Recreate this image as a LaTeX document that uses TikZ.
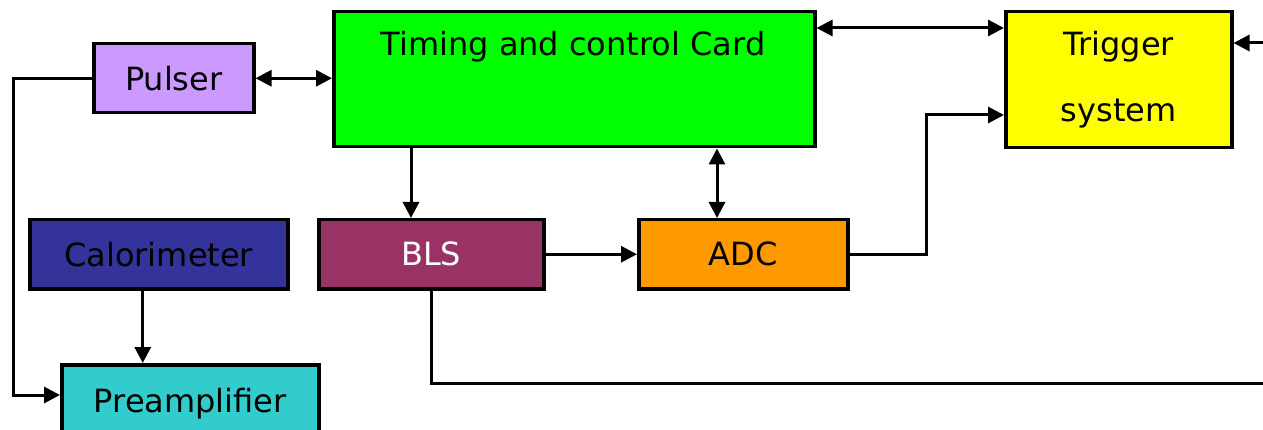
\documentclass[tikz,border=0pt]{standalone}
\usepackage{fontspec}
\setmainfont{DejaVu Sans}
\usetikzlibrary{arrows.meta}
\definecolor{cPulser}{HTML}{CC99FF}
\definecolor{cTiming}{HTML}{00FF00}
\definecolor{cTrigger}{HTML}{FFFF00}
\definecolor{cCalo}{HTML}{333399}
\definecolor{cBLS}{HTML}{993366}
\definecolor{cADC}{HTML}{FF9900}
\definecolor{cPre}{HTML}{33CCCC}
\tikzset{
  block/.style={draw=black, line width=3.5pt, rectangle, inner sep=0pt,
    anchor=north west, font=\fontsize{32}{38}\selectfont},
  wire/.style={line width=3pt, draw=black},
  tip/.tip={Triangle[length=16pt,width=16pt]},
  arr/.style={wire, -tip},
  dbl/.style={wire, tip-tip},
}
\begin{document}
\begin{tikzpicture}[x=1pt, y=-1pt]
\useasboundingbox (0,0) rectangle (1263,430);

% blocks
\node[block, fill=cPulser, minimum width=160pt, minimum height=69pt] (pulser) at (92,42) {Pulser};
\node[block, fill=cTiming, minimum width=481pt, minimum height=135pt] (tc) at (332,10) {};
\node[font=\fontsize{32}{38}\selectfont] (tclabel) at (573,47) {Timing and control Card};
\node[block, fill=cTrigger, minimum width=226pt, minimum height=136pt, align=center,
      font=\fontsize{32}{66}\selectfont] (trig) at (1004,10) {Trigger\\system};
\node[block, fill=cCalo, minimum width=258pt, minimum height=69pt] (cal) at (28,218) {Calorimeter};
\node[block, fill=cBLS, text=white, minimum width=225pt, minimum height=69pt] (bls) at (317,218) {BLS};
\node[block, fill=cADC, minimum width=209pt, minimum height=69pt] (adc) at (637,218) {ADC};
\node[block, fill=cPre, minimum width=257pt, minimum height=72pt, text depth=0pt] (pre) at (60,363) {Preamplifier};

% routing points
\coordinate (lb) at (13,395);
\coordinate (xa) at (411,0);
\coordinate (xb) at (717,0);
\coordinate (xc) at (926,115);
\coordinate (yt) at (0,28);
\coordinate (rin) at (1263,43);
\coordinate (rout) at (1263,383);

% connectors
\draw[dbl] (pulser.east) -- (pulser.east -| tc.west);
\draw[arr] (pulser.west) -| (lb) -- (lb -| pre.west);
\draw[arr] ([xshift=-16pt]cal.south) -- ([xshift=-16pt]cal.south |- pre.north);
\draw[arr] (tc.south -| xa) -- (bls.north -| xa);
\draw[dbl] (tc.south -| xb) -- (adc.north -| xb);
\draw[arr] (bls.east) -- (adc.west);
\draw[arr] (adc.east) -| (xc) -- (xc -| trig.west);
\draw[dbl] (tc.east |- yt) -- (trig.west |- yt);
\draw[arr] (rin) -- (rin -| trig.east);
\draw[wire] (bls.south) |- (rout);
\end{tikzpicture}
\end{document}
